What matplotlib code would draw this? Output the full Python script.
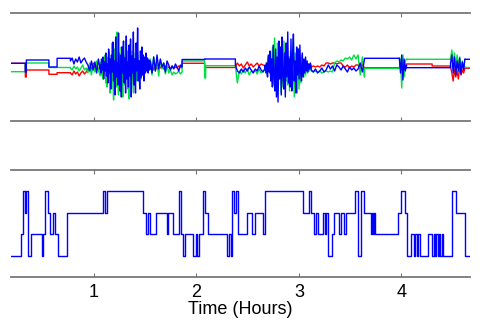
import numpy as np
import matplotlib
matplotlib.use("Agg")
import matplotlib.pyplot as plt

plt.rcParams["font.family"] = ["Liberation Sans", "DejaVu Sans"]

# noisy stretches shared by the three top traces (hours)
windows = [(0.77, 1.06), (1.06, 1.55), (1.55, 1.86), (2.38, 2.67),
           (2.67, 3.12), (3.12, 3.64), (3.98, 4.05), (4.48, 4.62)]

# quiet stretches: (start, end, level)
red_flat = [(0.19, 0.33, 3.7), (0.33, 0.34, -10), (0.34, 0.56, -3),
            (0.56, 0.64, -7.3), (0.64, 0.77, -5.7), (1.86, 2.08, 3.7),
            (2.08, 2.38, -0.5), (3.64, 3.98, -0.7), (4.05, 4.30, 3),
            (4.30, 4.48, 1), (4.62, 4.668, -1.3)]
green_flat = [(0.19, 0.33, -4.7), (0.33, 0.56, 4), (0.56, 0.77, -0.5),
              (1.86, 2.08, 6), (2.08, 2.09, -11), (2.09, 2.38, 1.3),
              (3.64, 3.98, -1.3), (4.05, 4.48, 7.7), (4.62, 4.668, -0.5)]
blue_flat = [(0.19, 0.33, 3.7), (0.33, 0.34, -5), (0.34, 0.56, 7),
             (0.56, 0.64, 0), (0.64, 0.77, 8.7), (1.86, 2.08, 7.5),
             (2.08, 2.38, 8), (3.64, 3.98, 8.7), (4.05, 4.48, -0.7),
             (4.62, 4.668, 7.7)]

# values inside the noisy stretches, one list per window
red_noise = [
    [-6, -8, -4, -7, -5, -9, -6, -4, -7, -5, -2, 2, -3, 4, -1, 3, -4, 1],
    [0, -4, 5, -2, 6, -8, 3, -6, 9, -4, -10, 7, -3, 11, -9, 4, -12, 8, -2, 10,
     -7, 5, -11, 9, -4, 6, -10, 3, 8, -6, 11, -5, -9, 4, 7, -8, 3, -6, 5, -4,
     6, -3, 4, -5, 2, -3, 3, -1, 2, -2],
    [-1, 2, -3, 1, -2, 0, -1, 2, -2, 1, -1, 0, -2, 1, -1, 0, -1, 1, 0, -1],
    [0, 4, 1, 3, -1, 2, 5, 1, 3, 0, 2, 4, 1, 3, 2, 1],
    [1, -3, 5, -2, -6, 8, -4, 10, -8, 6, -12, 9, -5, 12, -10, 7, -4, 11, -9, 5,
     -7, 10, -6, 8, -11, 6, -5, 9, -7, 4, -3, 6, -4, 5, -2, 3, -1, 2, -2, 3, 1],
    [0, 1, 0, 1, 0, 2, 1, 4, 4, 3, 4, 4, 3, 4, 4, 1, 0, 2, -1, 1, 0, 2, 2, -3, 3, -1],
    [-1, 3, -5, 4, -3, 2, 3],
    [0, -6, -14, -2, -10, -4, -12, 0, -8, -3, -6, -1],
]
green_noise = [
    [-1, -3, 1, -2, 0, -4, -1, 2, -3, -1, -6, 4, -8, 2, -5, 6, -3, -9],
    [-2, 5, -8, 3, -12, 9, -4, 12, -16, 6, -20, 10, -5, 15, -26, 8, -22, 24, -10, -33,
     18, -6, 12, -20, 35, -12, -28, 14, -4, -24, 20, -8, -30, 12, 4, -18, 26, -10, 16, -22,
     8, -32, 10, -6, -20, 16, -4, -26, 8, -12, 14, -3, -14, 12, -6, -10, 6, -2, -12, 4,
     -8, 6, -4, 3, -5, 2, -3, 1, -2, 3, -1, 2],
    [8, -8, 10, -4, 6, -9, 7, -2, 4, -7, 2, -6, -3, -8, -5, -7, -6, -4, -7, -5],
    [1, -16, -4, -7, -3, -6, -2, -8, -4, -5, -3, -7, -2, -6, -4, -3],
    [-2, 4, -8, 10, -4, 14, -12, 6, 20, -18, 29, -10, -16, 24, -22, 8, 18, -26, 12, -20,
     26, -8, -14, 22, -18, 10, -24, 16, -6, -20, 28, -30, 14, -12, -26, 18, -22, 8, -16, 12,
     -4, -10, 6, -8, 4, -6, 3, -4, 2, -1],
    [-4, -5, -4, -5, -4, -6, -5, -4, -5, -4, -5, 4, 6, 5, 7, 6, 9, 8, 10, 7, 12, 8,
     12, -8, 10, -10],
    [-1, 8, -21, 12, -10, 6, 8],
    [8, 17, 2, 14, -2, 12, 0, 10, -3, 6, 2, 0],
]
blue_noise = [
    [6, 9, 3, 8, 5, 10, 4, 7, 9, 5, 2, -4, 6, -3, 5, -6, 8, -2],
    [2, -6, 8, -3, 10, -12, 5, -4, 14, -9, 3, -16, 18, -6, 8, -22, 12, -5, 25, -14,
     6, -28, 30, -10, 4, -18, 34, -8, -24, 12, -30, 20, -6, 26, -16, 9, -26, 31, -12, 5,
     -20, 22, -9, 28, -30, 11, -6, 35, -18, 8, -26, 24, -4, 39, -14, 6, -22, 16, -10, 20,
     -8, 12, -14, 10, -6, 14, -4, 9, -6, 7, -3, 5],
    [6, -6, 10, -4, 12, -2, 8, 0, 4, -5, 6, 2, -3, 1, -2, 3, 0, -4, 2, 0],
    [2, -4, -6, -2, -5, -1, -4, 0, -3, -6, -2, -4, 1, -3, -5, -1],
    [2, -6, 4, -10, 12, -5, 16, -14, 8, -20, 22, -9, -24, 18, -30, 10, -35, 26, -12, 20,
     -28, 30, -8, -22, 14, -30, 24, -10, 35, -16, 8, -20, 28, -24, 12, 33, -14, 6, -26, 20,
     -8, 18, -12, 22, -6, -14, 14, -10, 8, -6, 10, -4, 6, -5, 3, -2, 4, -1],
    [-3, -5, -2, -6, -4, -1, -5, -3, 2, -2, 1, -4, 2, 0, -3, 1, -2, -5, 0, -3, -1, -4,
     -2, 4, -5, 8],
    [9, -6, 12, -13, 8, -4, 2],
    [4, 12, -6, 10, -8, 6, -4, 9, -7, 5, -3, 8],
]

# bottom panel: state changes (hour, state)
state_t = [0.19, 0.288, 0.304, 0.324, 0.337, 0.353, 0.385, 0.490, 0.505, 0.522,
           0.554, 0.571, 0.597, 0.620, 0.652, 0.734, 1.085, 1.107, 1.124, 1.481,
           1.504, 1.530, 1.546, 1.602, 1.709, 1.725, 1.774, 1.832, 1.849, 1.871,
           1.888, 1.969, 1.992, 2.008, 2.024, 2.066, 2.083, 2.109, 2.294, 2.317,
           2.337, 2.349, 2.369, 2.383, 2.402, 2.490, 2.539, 2.571, 2.652, 2.668,
           3.042, 3.100, 3.117, 3.146, 3.166, 3.188, 3.237, 3.254, 3.263, 3.286,
           3.319, 3.341, 3.393, 3.410, 3.439, 3.459, 3.546, 3.573, 3.605, 3.637,
           3.702, 3.709, 3.722, 3.732, 3.741, 3.969, 3.992, 4.034, 4.057, 4.090,
           4.122, 4.132, 4.148, 4.158, 4.180, 4.256, 4.301, 4.314, 4.327, 4.340,
           4.353, 4.366, 4.379, 4.392, 4.408, 4.490, 4.538, 4.620, 4.668]
state_v = [1, 2, 4, 3, 4, 1, 2, 1, 2, 4,
           3, 2, 3, 2, 1, 3, 4, 3, 4, 3,
           2, 3, 2, 3, 2, 3, 2, 4, 2, 1,
           2, 1, 2, 1, 2, 4, 3, 2, 1, 2,
           1, 4, 3, 4, 2, 3, 2, 3, 2, 4,
           3, 4, 3, 2, 3, 2, 3, 2, 3, 1,
           2, 3, 2, 3, 2, 3, 4, 1, 4, 3,
           2, 3, 2, 3, 2, 3, 4, 3, 1, 2,
           1, 2, 1, 2, 1, 2, 1, 2, 1, 2,
           1, 2, 1, 2, 1, 4, 3, 1, 1]

xticks = [1, 2, 3, 4]


def build(flats, noise):
    pieces = [(a, [a, b], [v, v]) for a, b, v in flats]
    for (a, b), vals in zip(windows, noise):
        pieces.append((a, list(np.linspace(a, b, len(vals))), vals))
    pieces.sort(key=lambda p: p[0])
    t = np.concatenate([p[1] for p in pieces])
    y = np.concatenate([p[2] for p in pieces])
    return t, y


fig = plt.figure(figsize=(4.84, 3.23), dpi=100)
ax1 = fig.add_axes([0.0227, 0.6254, 0.948, 0.3344])
ax2 = fig.add_axes([0.0227, 0.1424, 0.948, 0.3313])

for flats, noise, col in [(red_flat, red_noise, "#ff0000"),
                          (green_flat, green_noise, "#00e040"),
                          (blue_flat, blue_noise, "#0000ff")]:
    t, y = build(flats, noise)
    ax1.plot(t, y, color=col, lw=1.0)
ax1.set_ylim(-54, 54)

ax2.step(state_t, state_v, where="post", color="#0000ff", lw=1.0)
ax2.set_ylim(0, 5)
ax2.set_xlabel("Time (Hours)", fontsize=13, labelpad=0)

for ax in (ax1, ax2):
    ax.set_xlim(0.19, 4.668)
    ax.set_xticks(xticks)
    ax.set_yticks([])
    ax.spines["left"].set_visible(False)
    ax.spines["right"].set_visible(False)
    for s in ("top", "bottom"):
        ax.spines[s].set_color("#777777")
        ax.spines[s].set_linewidth(1.3)
    ax.tick_params(axis="x", direction="in", top=True, bottom=True,
                   length=3, color="#777777", labelsize=13, pad=5)
ax1.tick_params(axis="x", labelbottom=False)

fig.savefig("out.png", dpi=100)
